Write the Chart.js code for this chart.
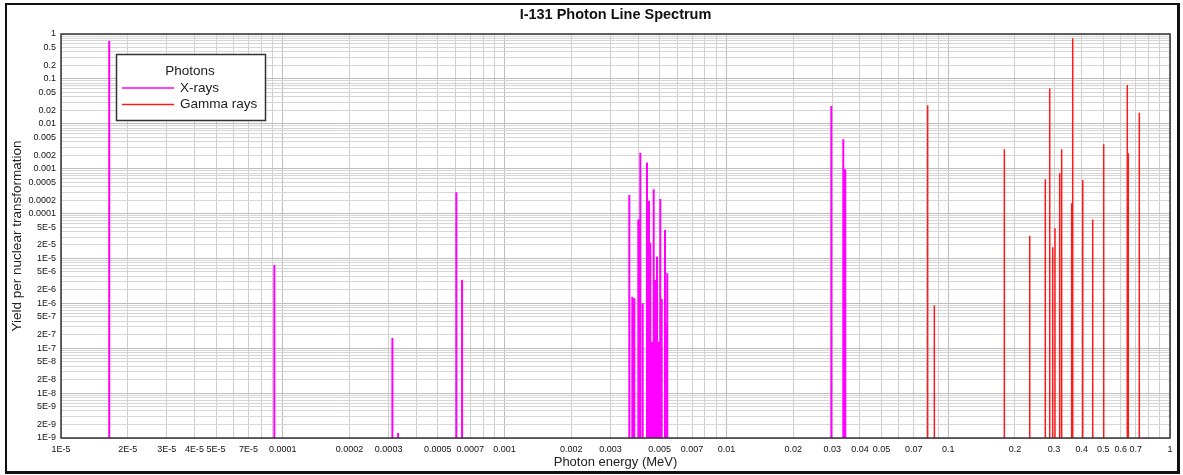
<!DOCTYPE html>
<html>
<head>
<meta charset="utf-8">
<title>I-131 Photon Line Spectrum</title>
<script src="https://cdn.jsdelivr.net/npm/chart.js@4.4.1/dist/chart.umd.min.js"></script>
<style>
  html, body { margin: 0; padding: 0; background: #fff; }
  #wrap { position: relative; width: 1183px; height: 475px; }
  #frame {
    position: absolute; left: 5px; top: 3px; width: 1175px; height: 471px;
    box-sizing: border-box; border: 2px solid #111;
    border-right-width: 3px; border-bottom-width: 3px;
    pointer-events: none;
  }
</style>
</head>
<body>
<div id="wrap">
  <canvas id="spectrum" width="1183" height="475"></canvas>
  <div id="frame"></div>
</div>
<script>
// --- line energies (MeV) and yields per nuclear transformation ---
const xrayEnergy = [
  1.65e-5, 9.16e-5, 3.12e-4, 3.31e-4, 6.06e-4, 6.43e-4,
  3.65e-3, 3.765e-3, 3.844e-3, 4.007e-3, 4.091e-3, 4.194e-3,
  4.385e-3, 4.431e-3, 4.477e-3, 4.538e-3, 4.604e-3, 4.652e-3,
  4.701e-3, 4.765e-3, 4.815e-3, 4.865e-3, 4.916e-3, 4.967e-3,
  5.035e-3, 5.108e-3, 5.286e-3, 5.341e-3, 5.413e-3,
  0.02972, 0.03365, 0.0340, 0.03436
];
const xrayYield = [
  0.71, 7.1e-6, 1.7e-7, 1.3e-9, 3.0e-4, 3.3e-6,
  2.6e-4, 1.4e-6, 1.3e-6, 7.4e-5, 2.26e-3, 1.0e-6,
  1.38e-3, 1.2e-4, 1.9e-4, 2.24e-5, 1.4e-7, 1.2e-7,
  3.46e-4, 3.3e-6, 1.3e-7, 1.09e-5, 1.3e-7, 1.4e-7,
  2.1e-4, 1.25e-6, 4.3e-5, 3.5e-7, 4.7e-6,
  0.0248, 4.5e-3, 3.2e-5, 9.7e-4
];

const gammaEnergy = [
  0.0808, 0.0866, 0.1791, 0.2331, 0.2741, 0.2869, 0.2959, 0.3030, 0.3181,
  0.3248, 0.3604, 0.3642, 0.4041, 0.4482, 0.5025, 0.6419, 0.6486, 0.7272
];
const gammaYield = [
  0.026, 8.9e-7, 2.7e-3, 3.2e-5, 5.8e-4, 0.0614, 1.77e-5, 4.7e-5, 7.9e-4,
  2.7e-3, 1.7e-4, 0.80, 5.6e-4, 7.4e-5, 3.5e-3, 0.0727, 2.2e-3, 0.0176
];

// labelled ticks (every 1..9 multiple still gets a grid line)
const xTickValues = [1e-5, 2e-5, 3e-5, 4e-5, 5e-5, 7e-5, 1e-4, 2e-4, 3e-4, 5e-4, 7e-4,
  1e-3, 2e-3, 3e-3, 5e-3, 7e-3, 0.01, 0.02, 0.03, 0.04, 0.05, 0.07,
  0.1, 0.2, 0.3, 0.4, 0.5, 0.6, 0.7, 1];
const xTickLabels = ['1E-5', '2E-5', '3E-5', '4E-5', '5E-5', '7E-5', '0.0001', '0.0002', '0.0003', '0.0005', '0.0007',
  '0.001', '0.002', '0.003', '0.005', '0.007', '0.01', '0.02', '0.03', '0.04', '0.05', '0.07',
  '0.1', '0.2', '0.3', '0.4', '0.5', '0.6', '0.7', '1'];

const yTickValues = [1, 0.5, 0.2, 0.1, 0.05, 0.02, 0.01, 0.005, 0.002, 0.001, 5e-4, 2e-4, 1e-4,
  5e-5, 2e-5, 1e-5, 5e-6, 2e-6, 1e-6, 5e-7, 2e-7, 1e-7, 5e-8, 2e-8, 1e-8, 5e-9, 2e-9, 1e-9];
const yTickLabels = ['1', '0.5', '0.2', '0.1', '0.05', '0.02', '0.01', '0.005', '0.002', '0.001', '0.0005', '0.0002', '0.0001',
  '5E-5', '2E-5', '1E-5', '5E-6', '2E-6', '1E-6', '5E-7', '2E-7', '1E-7', '5E-8', '2E-8', '1E-8', '5E-9', '2E-9', '1E-9'];

const X_MIN = 1e-5, X_MAX = 1;
const Y_MIN = 1e-9, Y_MAX = 1;

// each line is a vertical stem from the bottom of the axis up to its yield
function stems(energies, yields) {
  const pts = [];
  energies.forEach((e, i) => {
    pts.push({ x: e, y: Y_MIN }, { x: e, y: yields[i] }, { x: e, y: null });
  });
  return pts;
}

// 1..9 x 10^k for every decade between the two exponents
function decadeTicks(lo, hi) {
  const out = [];
  for (let k = lo; k < hi; k++) {
    for (let m = 1; m <= 9; m++) out.push({ value: Number(m + 'e' + k) });
  }
  out.push({ value: Number('1e' + hi) });
  return out;
}

function labelFor(values, labels, v) {
  const i = values.findIndex(t => Math.abs(t - v) / t < 1e-6);
  return i >= 0 ? labels[i] : '';
}

function isDecade(v) {
  const l = Math.log10(v);
  return Math.abs(l - Math.round(l)) < 1e-6;
}

const tickFont = { family: "'Liberation Sans Narrow', 'Liberation Sans', Arial, sans-serif", size: 9 };

// box around the plot area
const plotFrame = {
  id: 'plotFrame',
  afterDraw(chart) {
    const { ctx, chartArea: a } = chart;
    ctx.save();
    ctx.strokeStyle = '#333';
    ctx.lineWidth = 1.5;
    ctx.strokeRect(a.left, a.top, a.right - a.left, a.bottom - a.top);
    ctx.restore();
  }
};

// boxed legend with a heading, sitting inside the plot
const photonLegend = {
  id: 'photonLegend',
  afterDraw(chart) {
    const { ctx } = chart;
    const sets = chart.data.datasets;
    ctx.save();
    ctx.fillStyle = '#fff';
    ctx.fillRect(116, 54, 149, 67);
    ctx.strokeStyle = '#333';
    ctx.lineWidth = 1.5;
    ctx.strokeRect(116.5, 54.5, 149, 66);

    ctx.font = "13.5px 'Liberation Sans', Arial, sans-serif";
    ctx.fillStyle = '#222';
    ctx.textAlign = 'center';
    ctx.textBaseline = 'middle';
    ctx.fillText('Photons', 190, 71);

    ctx.textAlign = 'left';
    sets.forEach((ds, i) => {
      const y = 88 + i * 16.5;
      ctx.strokeStyle = ds.borderColor;
      ctx.lineWidth = 1.5;
      ctx.beginPath();
      ctx.moveTo(122, y);
      ctx.lineTo(174, y);
      ctx.stroke();
      ctx.fillStyle = '#222';
      ctx.fillText(ds.label, 180, y);
    });
    ctx.restore();
  }
};

new Chart(document.getElementById('spectrum'), {
  type: 'scatter',
  data: {
    datasets: [
      {
        label: 'X-rays',
        data: stems(xrayEnergy, xrayYield),
        showLine: true,
        spanGaps: false,
        borderColor: '#ff00ff',
        borderWidth: 2,
        pointRadius: 0,
        pointHoverRadius: 0
      },
      {
        label: 'Gamma rays',
        data: stems(gammaEnergy, gammaYield),
        showLine: true,
        spanGaps: false,
        borderColor: '#ff1a1a',
        borderWidth: 1.5,
        pointRadius: 0,
        pointHoverRadius: 0
      }
    ]
  },
  options: {
    responsive: false,
    animation: false,
    layout: { padding: { left: 9, right: 13, top: 0, bottom: 5 } },
    plugins: {
      legend: { display: false },
      tooltip: { enabled: false },
      title: {
        display: true,
        text: 'I-131 Photon Line Spectrum',
        fullSize: false,
        color: '#111',
        font: { family: "'Liberation Sans', Arial, sans-serif", size: 14.5, weight: 'bold' },
        padding: { top: 6, bottom: 10.6 }
      }
    },
    scales: {
      x: {
        type: 'logarithmic',
        min: X_MIN,
        max: X_MAX,
        afterBuildTicks: s => { s.ticks = decadeTicks(-5, 0); },
        afterFit: s => { s.height = 32; },
        border: { display: false },
        grid: {
          drawTicks: false,
          color: c => (c.tick && isDecade(c.tick.value)) ? '#bdbdbd' : '#cfcfcf',
          lineWidth: 1
        },
        ticks: {
          autoSkip: false,
          maxRotation: 0,
          padding: 6,
          color: '#111',
          font: tickFont,
          callback: v => labelFor(xTickValues, xTickLabels, v)
        },
        title: {
          display: true,
          text: 'Photon energy (MeV)',
          color: '#222',
          font: { family: "'Liberation Sans', Arial, sans-serif", size: 13 },
          padding: 0
        }
      },
      y: {
        type: 'logarithmic',
        min: Y_MIN,
        max: Y_MAX,
        afterBuildTicks: s => { s.ticks = decadeTicks(-9, 0); },
        afterFit: s => { s.width = 52; },
        border: { display: false },
        grid: {
          drawTicks: false,
          color: c => (c.tick && isDecade(c.tick.value)) ? '#bdbdbd' : '#d6d6d6',
          lineWidth: 1
        },
        ticks: {
          autoSkip: false,
          padding: 5,
          color: '#111',
          font: tickFont,
          callback: v => labelFor(yTickValues, yTickLabels, v)
        },
        title: {
          display: true,
          text: 'Yield per nuclear transformation',
          color: '#222',
          font: { family: "'Liberation Sans', Arial, sans-serif", size: 13.5 },
          padding: 0
        }
      }
    }
  },
  plugins: [plotFrame, photonLegend]
});
</script>
</body>
</html>
